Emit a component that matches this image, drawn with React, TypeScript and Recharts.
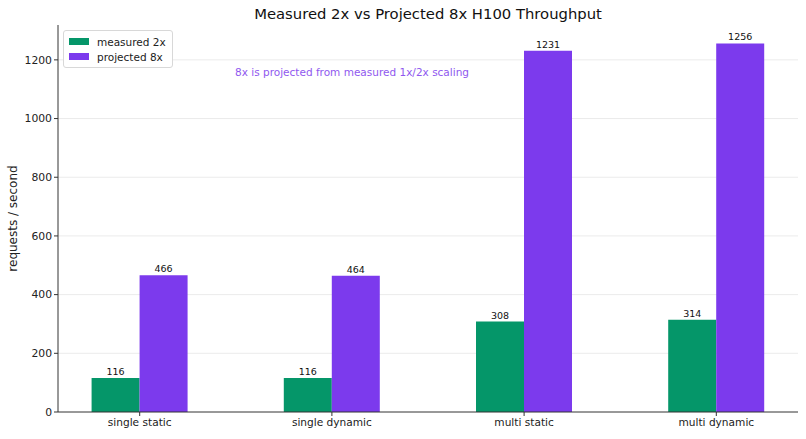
import { BarChart, Bar, XAxis, YAxis, CartesianGrid, LabelList } from "recharts";

const categories = ["single static", "single dynamic", "multi static", "multi dynamic"];
const measured2x = [116, 116, 308, 314];
const projected8x = [466, 464, 1231, 1256];
const yTicks = [0, 200, 400, 600, 800, 1000, 1200];

const GREEN = "#059669";
const PURPLE = "#7c3aed";
const FONT = "DejaVu Sans, sans-serif";

const data = categories.map((name, i) => ({
  x: i,
  name,
  measured: measured2x[i],
  projected: projected8x[i],
}));

// legend drawn as an overlay so it doesn't push the plot area down
function LegendBox() {
  const items = [
    { label: "measured 2x", color: GREEN },
    { label: "projected 8x", color: PURPLE },
  ];
  return (
    <div
      style={{
        position: "absolute",
        top: 30,
        left: 63,
        background: "#fff",
        border: "1px solid #d8d8d8",
        borderRadius: 3,
        padding: "3px 6px 3px 5px",
        fontFamily: FONT,
        fontSize: 10.5,
        color: "#222",
      }}
    >
      {items.map((it) => (
        <div key={it.label} style={{ display: "flex", alignItems: "center", height: 15 }}>
          <span style={{ width: 20, height: 7, background: it.color, marginRight: 8 }} />
          {it.label}
        </div>
      ))}
    </div>
  );
}

export default function App() {
  return (
    <div style={{ position: "absolute", left: 0, top: 0, width: 806, height: 439, background: "#fff" }}>
      <div
        style={{
          position: "absolute",
          top: 5,
          left: 58,
          width: 740,
          textAlign: "center",
          fontFamily: FONT,
          fontSize: 14.8,
          color: "#111",
        }}
      >
        Measured 2x vs Projected 8x H100 Throughput
      </div>
      <BarChart
        width={806}
        height={439}
        data={data}
        margin={{ top: 25, right: 8, left: 8, bottom: 5 }}
        barGap={0}
        barCategoryGap={0}
      >
        <CartesianGrid vertical={false} stroke="#ebebeb" horizontalValues={yTicks.slice(1)} />
        <XAxis
          dataKey="x"
          type="number"
          domain={[-0.425, 3.425]}
          ticks={[0, 1, 2, 3]}
          tickFormatter={(v: number) => categories[v]}
          height={22}
          tickSize={4}
          stroke="#333"
          tick={{ fill: "#222", fontSize: 10.6, fontFamily: FONT }}
          allowDataOverflow
        />
        <YAxis
          domain={[0, 1318.8]}
          ticks={yTicks}
          width={50}
          tickSize={4}
          stroke="#333"
          tick={{ fill: "#222", fontSize: 10.8, fontFamily: FONT }}
          label={{
            value: "requests / second",
            angle: -90,
            position: "insideLeft",
            offset: 5,
            style: { textAnchor: "middle", fill: "#222", fontSize: 12, fontFamily: FONT },
          }}
        />
        <Bar dataKey="measured" fill={GREEN} barSize={48} isAnimationActive={false}>
          <LabelList dataKey="measured" position="top" offset={3} style={{ fill: "#111", fontSize: 9.5, fontFamily: FONT }} />
        </Bar>
        <Bar dataKey="projected" fill={PURPLE} barSize={48} isAnimationActive={false}>
          <LabelList dataKey="projected" position="top" offset={3} style={{ fill: "#111", fontSize: 9.5, fontFamily: FONT }} />
        </Bar>
      </BarChart>
      <LegendBox />
      <div
        style={{
          position: "absolute",
          top: 66,
          left: 352,
          transform: "translateX(-50%)",
          whiteSpace: "nowrap",
          fontFamily: FONT,
          fontSize: 10.5,
          color: PURPLE,
          opacity: 0.85,
        }}
      >
        8x is projected from measured 1x/2x scaling
      </div>
    </div>
  );
}
